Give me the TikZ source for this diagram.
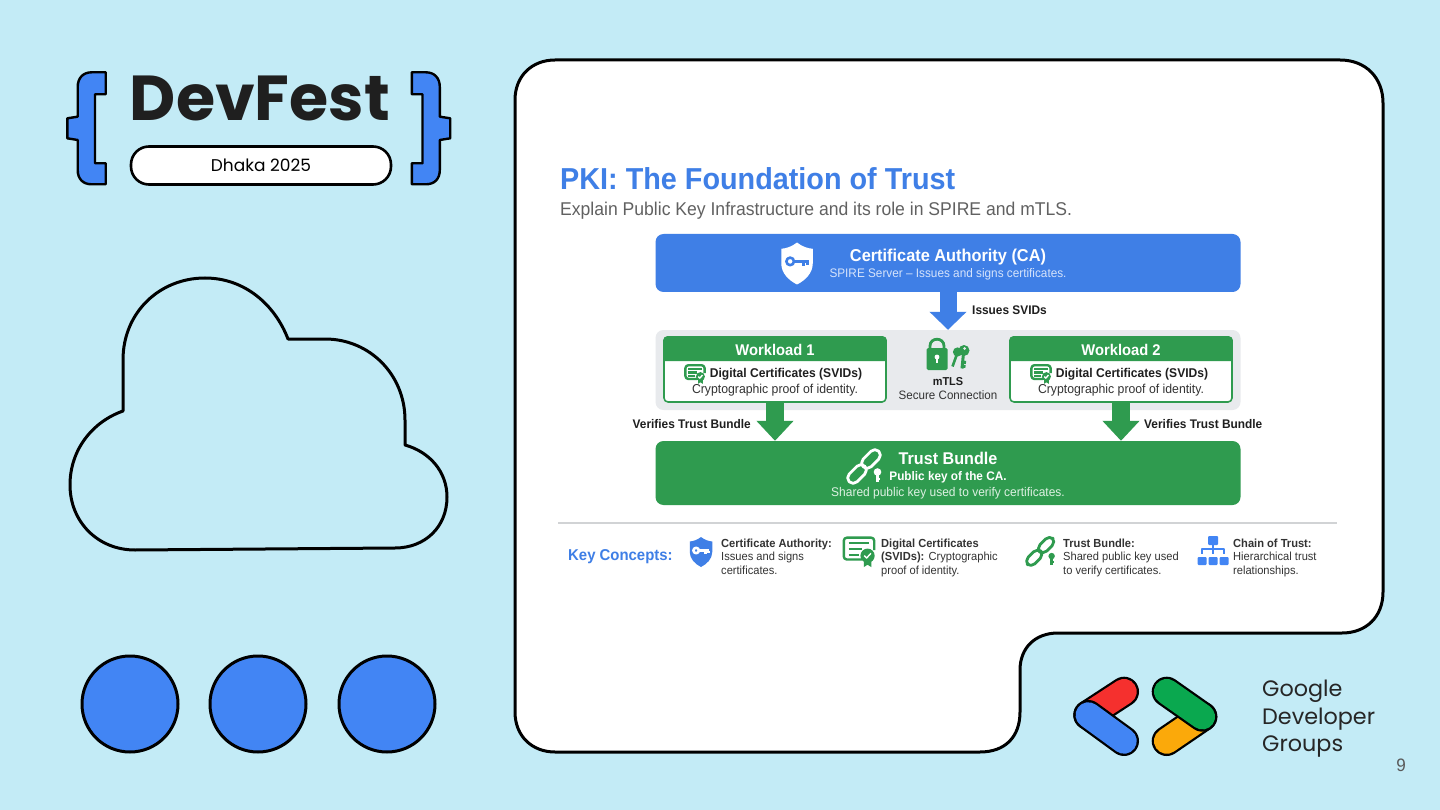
\documentclass[tikz,border=0pt]{standalone}
\usepackage{fontspec}
\setmainfont[FakeStretch=0.95]{Liberation Sans}
\newfontfamily\gfont{Poppins}
\usetikzlibrary{arrows.meta}
\definecolor{bgblue}{HTML}{C3EBF6}
\definecolor{gblue}{HTML}{4285F4}
\definecolor{cablue}{HTML}{3F7FE6}
\definecolor{tbgreen}{HTML}{2F9B4F}
\definecolor{panelgrey}{HTML}{E8EAED}
\definecolor{subblue}{HTML}{D5E3FB}
\definecolor{subgreen}{HTML}{DDF0E2}
\definecolor{inkgrey}{HTML}{333333}
\definecolor{logored}{HTML}{F5302E}
\definecolor{logogreen}{HTML}{0AA84F}
\definecolor{logoorange}{HTML}{FBA90A}
\tikzset{
	box/.style={inner sep=0pt, rounded corners=8pt},
	wlbox/.style={draw=tbgreen, line width=1.6pt, fill=white, rounded corners=4pt, inner sep=0pt, minimum width=222pt, minimum height=65pt},
	fatblue/.style={line width=17pt, cablue, -{Triangle[length=18pt,width=36pt]}},
	fatgreen/.style={line width=18pt, tbgreen, -{Triangle[length=20pt,width=36pt]}},
	lab/.style={font=\bfseries\fontsize{12.5}{14}\selectfont, text=inkgrey!60!black, inner sep=0pt},
	note/.style={font=\fontsize{12.9}{14}\selectfont, text=inkgrey, inner sep=0pt},
	concept/.style={anchor=north west, align=left, inner sep=0pt, text=inkgrey, font=\fontsize{11.7}{13.6}\selectfont},
	pill/.style={line cap=round, line width=30pt, black},
	pillfill/.style={line cap=round, line width=25.5pt, #1},
	pics/shieldicon/.style 2 args={code={
		\fill[#1] (0,-20) .. controls (-5,-16) and (-10,-14.5) .. (-15,-14) -- (-15,0) .. controls (-15,9) and (-8,16) .. (0,20) .. controls (8,16) and (15,9) .. (15,0) -- (15,-14) .. controls (10,-14.5) and (5,-16) .. (0,-20) -- cycle;
		\draw[#2, line width=2.6pt] (-6.5,-2) circle (3.6);
		\draw[#2, line width=2.8pt] (-3,-2) -- (11,-2);
		\draw[#2, line width=2.4pt] (6,-2) -- (6,2);
		\draw[#2, line width=2.4pt] (10,-2) -- (10,1);
	}},
	pics/certicon/.style={code={
		\draw[tbgreen, line width=2.4pt, rounded corners=3pt] (3,10) -- (-16,10) -- (-16,-13) -- (16,-13) -- (16,0);
		\draw[tbgreen, line width=2.2pt] (-11,-7) -- (11,-7) (-11,-1) -- (3,-1) (-11,5) -- (0,5);
		\fill[tbgreen] (9,6) circle (7.5);
		\fill[tbgreen] (5,11) -- (5,18) -- (9,15.5) -- (13,18) -- (13,11) -- cycle;
		\draw[white, line width=1.4pt] (5.5,6) -- (8,8.5) -- (12.5,3.5);
	}},
	pics/linkicon/.style={code={
		\draw[#1, line width=2.8pt, rounded corners=5.5pt, rotate around={45:(-8,8)}] (-19,2.5) rectangle (3,13.5);
		\draw[#1, line width=2.8pt, rounded corners=5.5pt, rotate around={45:(6,-7)}] (-5,-12.5) rectangle (17,-1.5);
		\fill[#1] (12.5,6) circle (3.8);
		\draw[#1, line width=2.4pt] (12.5,8) -- (12.5,16) (12.5,13) -- (15,13);
	}},
	pics/treeicon/.style={code={
		\fill[gblue, rounded corners=1pt] (-5,-15) rectangle (5,-6);
		\draw[gblue, line width=1.4pt] (0,-6) -- (0,3) (0,-2) -- (-11,-2) -- (-11,3) (0,-2) -- (11,-2) -- (11,3);
		\foreach \tx in {-11,0,11}
			\fill[gblue, rounded corners=1pt] (\tx-4.5,6) rectangle (\tx+4.5,14);
	}},
}
\begin{document}
\begin{tikzpicture}[x=1pt, y=-1pt, line join=round, >=stealth]
	\useasboundingbox (0,0) rectangle (1440,810);
	\fill[bgblue] (0,0) rectangle (1440,810);
	% card
	\draw[line width=3pt, fill=white] (555,60) -- (1340,60) .. controls (1366,60) and (1383,78) .. (1383,103) -- (1383,592) .. controls (1383,617) and (1366,633) .. (1342,633) -- (1058,633) .. controls (1035,633) and (1020,648) .. (1020,670) -- (1020,712) .. controls (1020,737) and (1005,752) .. (980,752) -- (555,752) .. controls (532,752) and (515,736) .. (515,712) -- (515,100) .. controls (515,76) and (532,60) .. (555,60) -- cycle;
	% cloud
	\draw[line width=3pt] (123,411) -- (123,360) .. controls (123,312) and (160,278) .. (205,278) .. controls (245,278) and (275,305) .. (288,339) -- (325,339) .. controls (370,339) and (405,375) .. (405,420) -- (405,445) .. controls (430,452) and (447,472) .. (447,497) .. controls (447,527) and (425,548) .. (395,548) -- (135,550) .. controls (98,550) and (70,522) .. (70,485) .. controls (70,450) and (92,422) .. (123,411) -- cycle;
	% dots
	\foreach \cx in {130,258,387}
		\draw[line width=3pt, fill=gblue] (\cx,704) circle (48);
	% braces
	\draw[line width=2.4pt, fill=gblue] (105.7,72.3) -- (91.7,72.3) .. controls (83,72.3) and (77.7,78) .. (77.7,87) -- (77.7,116.7) -- (67.3,118.3) -- (67.3,138.3) -- (77.7,140) -- (77.7,170) .. controls (77.7,179) and (83,184.3) .. (91.7,184.3) -- (105.7,184.3) -- (105.7,163.3) -- (95,163.3) -- (95,94.3) -- (105.7,94.3) -- cycle;
	\draw[line width=2.4pt, fill=gblue, xshift=517.5pt, xscale=-1] (105.7,72.3) -- (91.7,72.3) .. controls (83,72.3) and (77.7,78) .. (77.7,87) -- (77.7,116.7) -- (67.3,118.3) -- (67.3,138.3) -- (77.7,140) -- (77.7,170) .. controls (77.7,179) and (83,184.3) .. (91.7,184.3) -- (105.7,184.3) -- (105.7,163.3) -- (95,163.3) -- (95,94.3) -- (105.7,94.3) -- cycle;
	\draw (260,98.5) node[font=\gfont\bfseries\fontsize{63.5}{70}\selectfont, text=black!88, inner sep=0pt] (devfest) {DevFest};
	\draw (261,165.5) node[draw, line width=2.6pt, fill=white, rounded corners=18pt, minimum width=260pt, minimum height=38pt, inner sep=0pt, font=\gfont\fontsize{17}{20}\selectfont] (dhaka) {Dhaka 2025};
	% logo
	\coordinate (redend) at (1124,691.7);
	\coordinate (leftend) at (1088.3,715);
	\coordinate (blueend) at (1124,741);
	\coordinate (greenstart) at (1166.7,691.7);
	\coordinate (rightend) at (1202.3,716.7);
	\coordinate (orangeend) at (1166.7,741);
	\draw[pill] (leftend) -- (redend);
	\draw[pillfill=logored] (leftend) -- (redend);
	\draw[pill] (leftend) -- (blueend);
	\draw[pillfill=gblue] (leftend) -- (blueend);
	\draw[pill] (rightend) -- (orangeend);
	\draw[pillfill=logoorange] (rightend) -- (orangeend);
	\draw[pill] (greenstart) -- (rightend);
	\draw[pillfill=logogreen] (greenstart) -- (rightend);
	\draw (1262,719) node[anchor=west, align=left, inner sep=0pt, text=black!85, font=\gfont\fontsize{22.3}{27.5}\selectfont] (gdg) {Google\\Developer\\Groups};
	\draw (1401,765.5) node[inner sep=0pt, text=black!65, font=\fontsize{18}{20}\selectfont] (pageno) {9};
	% heading
	\draw (560,179) node[anchor=west, inner sep=0pt, text=cablue, font=\bfseries\fontsize{30.3}{32}\selectfont] (title) {PKI: The Foundation of Trust};
	\draw (560,210.5) node[anchor=west, inner sep=0pt, text=black!62, font=\fontsize{18.5}{20}\selectfont] (subtitle) {Explain Public Key Infrastructure and its role in SPIRE and mTLS.};
	% boxes
	\node[box, fill=cablue, minimum width=585pt, minimum height=58pt] (ca) at (948,263) {};
	\node[box, fill=panelgrey, minimum width=585pt, minimum height=80pt] (panel) at (948,370) {};
	\node[box, fill=tbgreen, minimum width=585pt, minimum height=64pt] (trust) at (948,473) {};
	\node[wlbox] (wla) at (775,369.5) {};
	\node[wlbox] (wlb) at (1121,369.5) {};
	\fill[tbgreen] (wla.west |- 0,361) [rounded corners=4pt] -- (wla.north west) -- (wla.north east) [sharp corners] -- (wla.east |- 0,361) -- cycle;
	\fill[tbgreen] (wlb.west |- 0,361) [rounded corners=4pt] -- (wlb.north west) -- (wlb.north east) [sharp corners] -- (wlb.east |- 0,361) -- cycle;
	% arrows
	\draw[fatblue] (ca.south) -- (panel.north);
	\draw[fatgreen] (wla.south) -- (wla.south |- trust.north);
	\draw[fatgreen] (wlb.south) -- (wlb.south |- trust.north);
	\draw (972,310) node[lab, anchor=west] (issues) {Issues SVIDs};
	\draw (751,424) node[lab, anchor=east] (verifya) {Verifies Trust Bundle};
	\draw (1144,424) node[lab, anchor=west] (verifyb) {Verifies Trust Bundle};
	% CA text
	\pic[scale=1.05] at (797,263.5) {shieldicon={white}{cablue}};
	\draw (948,257) node[inner sep=0pt, text=white, font=\bfseries\fontsize{17.2}{18}\selectfont] (catitle) {Certificate Authority (CA)};
	\draw (948,274.5) node[inner sep=0pt, text=subblue, font=\fontsize{12.4}{14}\selectfont] (casub) {SPIRE Server – Issues and signs certificates.};
	% workloads
	\draw (775,350) node[inner sep=0pt, text=white, font=\bfseries\fontsize{15.5}{17}\selectfont] (wlatitle) {Workload 1};
	\draw (786,374.5) node[lab, font=\bfseries\fontsize{12.7}{14}\selectfont] (wlacert) {Digital Certificates (SVIDs)};
	\draw (775,390.5) node[note] (wlaproof) {Cryptographic proof of identity.};
	\pic[scale=0.6] at (695,373) {certicon};
	\draw (1121,350) node[inner sep=0pt, text=white, font=\bfseries\fontsize{15.5}{17}\selectfont] (wlbtitle) {Workload 2};
	\draw (1132,374.5) node[lab, font=\bfseries\fontsize{12.7}{14}\selectfont] (wlbcert) {Digital Certificates (SVIDs)};
	\draw (1121,390.5) node[note] (wlbproof) {Cryptographic proof of identity.};
	\pic[scale=0.6] at (1041,373) {certicon};
	% lock and keys
	\draw[tbgreen, line width=2.8pt] (930,348) -- (930,346) .. controls (930,337) and (944,337) .. (944,346) -- (944,348);
	\fill[tbgreen, rounded corners=1.5pt] (926.5,348) rectangle (947.5,370);
	\fill[white] (937,357) circle (2.4);
	\fill[white] (936,357) rectangle (938,363);
	\fill[tbgreen] (957.5,352) circle (4.6);
	\draw[tbgreen, line width=2.6pt] (957,354) -- (952.5,366.5);
	\fill[tbgreen] (964,350.5) circle (5.5);
	\fill[panelgrey] (964.5,348.5) circle (1.5);
	\draw[tbgreen, line width=3pt] (963.5,353) -- (962,368.5) (962.5,362) -- (966,362.5) (962,366) -- (965.5,366.5);
	\draw (948,381.5) node[lab, font=\bfseries\fontsize{11.5}{13}\selectfont] (mtls) {mTLS};
	\draw (948,395.5) node[note, font=\fontsize{12.2}{14}\selectfont] (secure) {Secure Connection};
	% trust bundle text
	\pic at (865,466) {linkicon=white};
	\draw (948,458.5) node[inner sep=0pt, text=white, font=\bfseries\fontsize{17}{18}\selectfont] (tbtitle) {Trust Bundle};
	\draw (948,477.5) node[inner sep=0pt, text=white, font=\bfseries\fontsize{12.4}{14}\selectfont] (tbkey) {Public key of the CA.};
	\draw (948,493.5) node[inner sep=0pt, text=subgreen, font=\fontsize{12.6}{14}\selectfont] (tbsub) {Shared public key used to verify certificates.};
	% key concepts
	\draw[panelgrey!90!black, line width=1.6pt] (558,523) coordinate (rulea) -- (1337,523) coordinate (ruleb);
	\draw (568,556.5) node[anchor=west, inner sep=0pt, text=cablue, font=\bfseries\fontsize{15.7}{18}\selectfont] (keyconcepts) {Key Concepts:};
	\pic[scale=0.75] at (701,552) {shieldicon={cablue}{white}};
	\draw (721,538.5) node[concept] (conca) {\textbf{Certificate Authority:}\\Issues and signs\\certificates.};
	\pic[scale=0.95] at (859,550) {certicon};
	\draw (881,538.5) node[concept] (concb) {\textbf{Digital Certificates}\\\textbf{(SVIDs):} Cryptographic\\proof of identity.};
	\pic[scale=0.85] at (1041,551) {linkicon=tbgreen};
	\draw (1063,538.5) node[concept] (concc) {\textbf{Trust Bundle:}\\Shared public key used\\to verify certificates.};
	\pic at (1213,551) {treeicon};
	\draw (1233,538.5) node[concept] (concd) {\textbf{Chain of Trust:}\\Hierarchical trust\\relationships.};
\end{tikzpicture}
\end{document}
